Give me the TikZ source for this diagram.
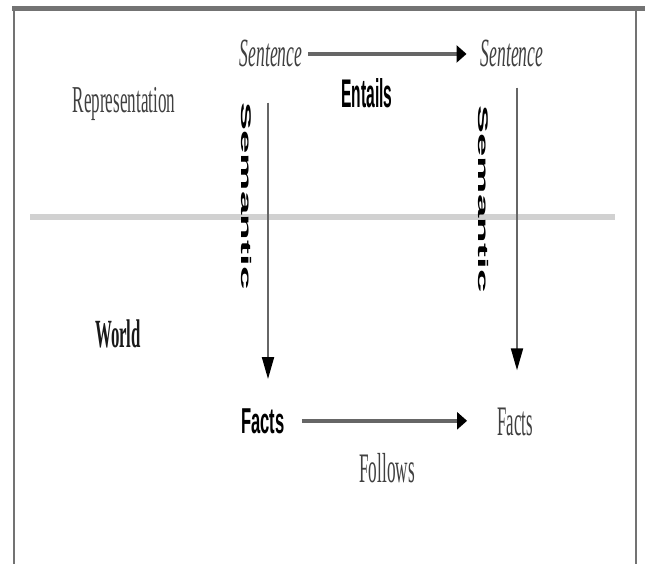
\documentclass[tikz,border=0pt]{standalone}
\usepackage{fontspec}
\setmainfont{Liberation Serif}
\setsansfont{Liberation Sans}
\usetikzlibrary{arrows.meta}
\begin{document}
\begin{tikzpicture}[x=1pt,y=-1pt,
  lbl/.style={inner sep=0pt, anchor=base},
  serif/.style={lbl, text=black!75},
  sansb/.style={lbl, text=black, font=\fontsize{40}{40}\selectfont\sffamily\bfseries},
  vlabel/.style={inner sep=0pt, rotate=-90, text=black, font=\fontsize{14}{14}\selectfont\sffamily\bfseries},
  harrow/.style={draw=black!60, line width=4pt, -{Triangle[length=10pt,width=17pt,color=black]}},
  varrow/.style={draw=black!60, line width=2pt, -{Triangle[length=22pt,width=12pt,color=black]}},
  frameline/.style={draw=black!55},
  divider/.style={draw=black!18, line width=6pt}
]
\useasboundingbox (0,0) rectangle (645,564);
\fill[white] (0,0) rectangle (645,564);
% frame
\draw[frameline, line width=4.5pt] (12,8.5) -- (645,8.5);
\draw[frameline, line width=2.5pt] (14,6) -- (14,564);
\draw[frameline, line width=2.5pt] (636,6) -- (636,564);
% divider
\draw[divider] (30,217) -- (615,217);

% labels
\node[serif, font=\fontsize{40}{40}\selectfont\itshape] (s1) at (271,67) {\scalebox{0.44}[1]{Sentence}};
\node[serif, font=\fontsize{40}{40}\selectfont\itshape] (s2) at (512,67) {\scalebox{0.44}[1]{Sentence}};
\node[serif, font=\fontsize{38}{38}\selectfont] (rep) at (124,113) {\scalebox{0.45}[1]{Representation}};
\node[sansb] (ent) at (367,108) {\scalebox{0.39}[1]{Entails}};
\node[serif, text=black!90, font=\fontsize{40}{40}\selectfont\bfseries] (world) at (118,347) {\scalebox{0.42}[1]{World}};
\node[sansb, font=\fontsize{36}{36}\selectfont\sffamily\bfseries] (f1) at (263,433) {\scalebox{0.46}[1]{Facts}};
\node[serif, font=\fontsize{42}{42}\selectfont] (f2) at (515,435) {\scalebox{0.40}[1]{Facts}};
\node[serif, font=\fontsize{42}{42}\selectfont] (fol) at (387,482) {\scalebox{0.41}[1]{Follows}};
\node[vlabel] (sem1) at (247,196) {\scalebox{3}[1]{Semantic}};
\node[vlabel] (sem2) at (483,199) {\scalebox{3}[1]{Semantic}};

% connectors
\draw[harrow, shorten <=6pt, shorten >=14pt] (s1.east) -- (s2.west);
\draw[harrow, shorten <=17pt, shorten >=30pt] (f1.east) -- (f1.east -| f2.west);
\draw[varrow, shorten <=35pt, shorten >=29pt] ([xshift=-3pt]s1.south) -- ([xshift=-3pt]s1.south |- f1.north);
\draw[varrow, shorten <=20pt, shorten >=37pt] ([xshift=5pt]s2.south) -- ([xshift=5pt]s2.south |- f2.north);
\end{tikzpicture}
\end{document}
